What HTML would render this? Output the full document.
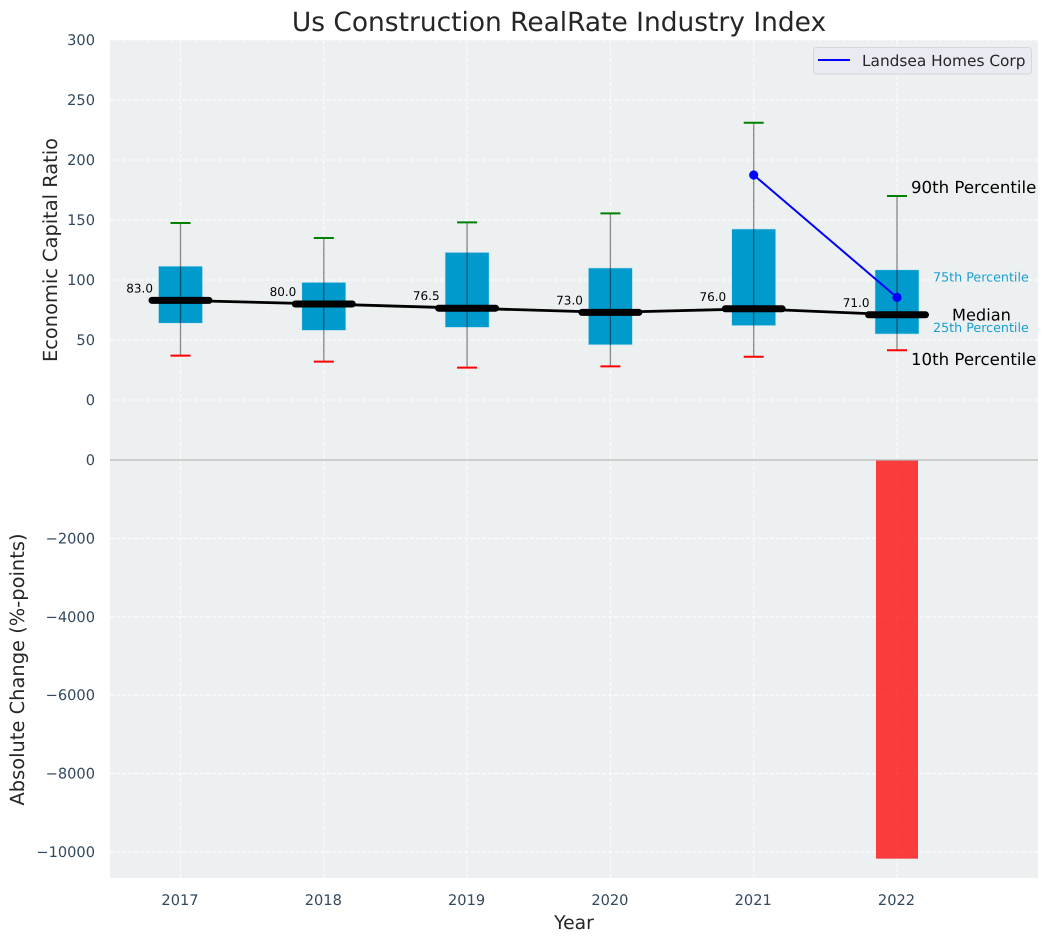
<!DOCTYPE html>
<html>
<head>
<meta charset="utf-8">
<title>Us Construction RealRate Industry Index</title>
<style>
html,body{margin:0;padding:0;background:#fff;width:1048px;height:942px;overflow:hidden}
svg{display:block}
text{font-family:"DejaVu Sans","Liberation Sans",sans-serif;text-rendering:geometricPrecision}
</style>
</head>
<body>
<svg id="chart" xmlns="http://www.w3.org/2000/svg" width="1048" height="942" viewBox="0 0 1048 942"></svg>
<script>
const years = [2017, 2018, 2019, 2020, 2021, 2022];
const p90 = [147.5, 135, 148, 155.5, 231, 170];
const p75 = [111.5, 98, 123, 110, 142.5, 108.5];
const medians = [83, 80, 76.5, 73, 76, 71];
const p25 = [64, 58, 60.5, 46, 62, 55];
const p10 = [37, 32, 27, 28, 36, 41.5];
const companyYears = [2021, 2022];
const companyValues = [187.5, 85.5];
const changeYears = [2022];
const changeValues = [-10170];
const topTicks = [0, 50, 100, 150, 200, 250, 300];
const bottomTicks = [0, -2000, -4000, -6000, -8000, -10000];

const svg = document.getElementById('chart');
const NS = 'http://www.w3.org/2000/svg';
const left = 110, right = 1038, topY = 40, midY = 460, bottomY = 878;
const x = v => 180.5 + (v - 2017) * 143.3;
const yTop = v => 400 - v * 1.2;
const yBottom = v => 460 - v * 0.0392;

function make(tag, attrs, txt) {
  const el = document.createElementNS(NS, tag);
  for (const k in attrs) el.setAttribute(k, attrs[k]);
  if (txt !== undefined) el.textContent = txt;
  svg.appendChild(el);
  return el;
}
let el;

el = make('rect', {x: left, y: topY, width: right - left, height: midY - topY, fill: '#ecf0f1'});


el = make('rect', {x: left, y: midY, width: right - left, height: bottomY - midY, fill: '#ecf0f1'});



const gridStyle = {stroke: '#ffffff', 'stroke-width': 1, 'stroke-dasharray': '4 2', opacity: 0.9};
years.forEach(yr => {
  el = make('line', Object.assign({x1: x(yr), x2: x(yr), y1: topY, y2: bottomY}, gridStyle));
  
  
  el = make('text', {x: x(yr) - 0.5, y: 905, 'text-anchor': 'middle', 'font-size': 14.6, fill: '#34495e'}, String(yr));
  
  
});
topTicks.forEach(t => {
  el = make('line', Object.assign({x1: left, x2: right, y1: yTop(t), y2: yTop(t)}, gridStyle));
  
  
  el = make('text', {x: 95, y: yTop(t) + 5, 'text-anchor': 'end', 'font-size': 14.6, fill: '#34495e'}, String(t));
  
  
});
bottomTicks.forEach(t => {
  el = make('line', Object.assign({x1: left, x2: right, y1: yBottom(t), y2: yBottom(t)}, gridStyle));
  
  
  el = make('text', {x: 95, y: yBottom(t) + 5, 'text-anchor': 'end', 'font-size': 14.6, fill: '#34495e'}, String(t).replace('-', '\u2212'));
  
  
});

changeYears.forEach((yr, i) => {
  const y0 = yBottom(0), y1 = yBottom(changeValues[i]);
  el = make('rect', {x: x(yr) - 21, y: Math.min(y0, y1), width: 42, height: Math.abs(y1 - y0), fill: '#ff0000', opacity: 0.75});
  
  
});

el = make('line', {x1: left, x2: right, y1: midY, y2: midY, stroke: '#b8b8b8', 'stroke-width': 1.3});



years.forEach((yr, i) => {
  const cx = x(yr);
  el = make('rect', {x: cx - 22, y: yTop(p75[i]), width: 44, height: yTop(p25[i]) - yTop(p75[i]), fill: '#009acd', stroke: '#bfe3ef', 'stroke-width': 0.6});
  
  
  el = make('line', {x1: cx, x2: cx, y1: yTop(p90[i]), y2: yTop(p10[i]), stroke: '#000000', 'stroke-opacity': 0.45, 'stroke-width': 1.3});
  
  
  el = make('line', {x1: cx - 10, x2: cx + 10, y1: yTop(p90[i]), y2: yTop(p90[i]), stroke: '#008000', 'stroke-width': 2});
  
  
  el = make('line', {x1: cx - 10, x2: cx + 10, y1: yTop(p10[i]), y2: yTop(p10[i]), stroke: '#ff0000', 'stroke-width': 2});
  
  
});

el = make('polyline', {points: years.map((yr, i) => x(yr) + ',' + yTop(medians[i])).join(' '), fill: 'none', stroke: '#000000', 'stroke-width': 2.8});



years.forEach((yr, i) => {
  const cx = x(yr), cy = yTop(medians[i]);
  el = make('line', {x1: cx - 28.5, x2: cx + 28.5, y1: cy, y2: cy, stroke: '#000000', 'stroke-width': 7, 'stroke-linecap': 'round'});
  
  
  el = make('text', {x: cx - 27.5, y: cy - 8, 'text-anchor': 'end', 'font-size': 12, fill: '#000000'}, medians[i].toFixed(1));
  
  
});

el = make('polyline', {points: companyYears.map((yr, i) => x(yr) + ',' + yTop(companyValues[i])).join(' '), fill: 'none', stroke: '#0000ff', 'stroke-width': 2});


companyYears.forEach((yr, i) => {
  el = make('circle', {cx: x(yr), cy: yTop(companyValues[i]), r: 4.6, fill: '#0000ff'});
  
  
});

const last = years.length - 1;
const lx = x(years[last]);
el = make('text', {x: lx + 14, y: yTop(p90[last]) - 3, 'font-size': 16.6, fill: '#000000'}, '90th Percentile');


el = make('text', {x: lx + 36, y: yTop(p75[last]) + 11.5, 'font-size': 12.7, fill: '#1a9fd0'}, '75th Percentile');


el = make('text', {x: lx + 55, y: yTop(medians[last]) + 5.5, 'font-size': 16.2, fill: '#000000'}, 'Median');


el = make('text', {x: lx + 36, y: yTop(p25[last]) - 2, 'font-size': 12.7, fill: '#1a9fd0'}, '25th Percentile');


el = make('text', {x: lx + 14, y: yTop(p10[last]) + 15, 'font-size': 16.6, fill: '#000000'}, '10th Percentile');



el = make('rect', {x: 813.5, y: 47.5, width: 218, height: 26.5, rx: 3, fill: '#eaeaf2', stroke: '#d6d6de', 'stroke-width': 1});


el = make('line', {x1: 818, x2: 850, y1: 60, y2: 60, stroke: '#0000ff', 'stroke-width': 2});


el = make('text', {x: 862, y: 66, 'font-size': 15.35, fill: '#262626'}, 'Landsea Homes Corp');



el = make('text', {x: 559, y: 31, 'text-anchor': 'middle', 'font-size': 26.44, fill: '#262626'}, 'Us Construction RealRate Industry Index');


el = make('text', {x: 574, y: 929, 'text-anchor': 'middle', 'font-size': 18.8, fill: '#262626'}, 'Year');


el = make('text', {x: 0, y: 0, transform: 'translate(57 250) rotate(-90)', 'text-anchor': 'middle', 'font-size': 19.4, fill: '#262626'}, 'Economic Capital Ratio');


el = make('text', {x: 0, y: 0, transform: 'translate(24 669.5) rotate(-90)', 'text-anchor': 'middle', 'font-size': 19.45, fill: '#262626'}, 'Absolute Change (%-points)');


</script>
</body>
</html>
